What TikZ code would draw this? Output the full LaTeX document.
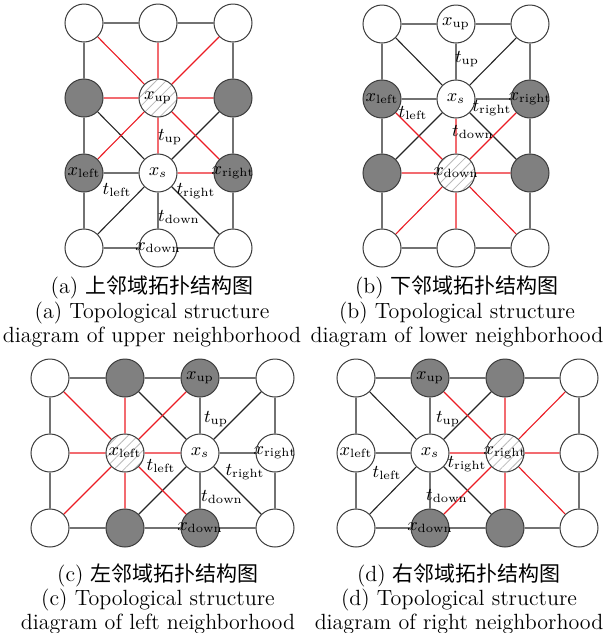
\documentclass[tikz,border=0pt]{standalone}
\usepackage{fontspec}
\newfontfamily\cjk{Noto Sans CJK SC}
\usetikzlibrary{patterns.meta}
\pgfdeclarelayer{bg}
\pgfsetlayers{bg,main}

\definecolor{edgered}{RGB}{235,28,36}
\definecolor{nodegray}{RGB}{128,128,128}
\definecolor{rim}{RGB}{60,60,60}

\tikzset{
  vtx/.style={circle, draw=rim, line width=0.5pt, fill=white, minimum size=19pt, inner sep=0pt},
  darkvtx/.style={vtx, fill=nodegray},
  hatchvtx/.style={vtx, preaction={fill=white},
    pattern={Lines[angle=45,distance=3.5pt,line width=0.4pt]}, pattern color=gray!55},
  blk/.style={draw=black!85, line width=0.55pt},
  rd/.style={draw=edgered, line width=0.55pt},
  lbl/.style={inner sep=0pt, font=\fontsize{9}{10}\selectfont},
  captxt/.style={anchor=base, inner sep=0pt, font=\fontsize{11}{12}\selectfont},
  nm/.style={label={[lbl]center:#1}},
}

\begin{document}
\begin{tikzpicture}[x=0.5pt, y=-0.5pt]
\useasboundingbox (0,0) rectangle (609,633);

% ---------- (a) upper neighbourhood ----------
\node[vtx]  (a00) at (84,23)  {};
\node[vtx]  (a10) at (158,23) {};
\node[vtx]  (a20) at (233,23) {};
\node[darkvtx] (a01) at (84,98)  {};
\node[hatchvtx,nm={$x_{\mathrm{up}}$}] (a11) at (158,98) {};
\node[darkvtx] (a21) at (233,98) {};
\node[darkvtx,nm={$x_{\mathrm{left}}$}]  (a02) at (84,173)  {};
\node[vtx,nm={$x_s$}]                    (a12) at (158,173) {};
\node[darkvtx,nm={$x_{\mathrm{right}}$}] (a22) at (233,173) {};
\node[vtx]  (a03) at (84,248)  {};
\node[vtx,nm={$x_{\mathrm{down}}$}] (a13) at (158,248) {};
\node[vtx]  (a23) at (233,248) {};
\begin{pgfonlayer}{bg}
  \draw[blk] (a00)--(a10)--(a20) (a03)--(a13)--(a23)
             (a00)--(a01)--(a02)--(a03) (a20)--(a21)--(a22)--(a23)
             (a01)--(a12) (a21)--(a12) (a02)--(a12) (a12)--(a13)
             (a12)--(a03) (a12)--(a23);
  \draw[rd] (a11)--(a00) (a11)--(a10) (a11)--(a20) (a11)--(a01) (a11)--(a21)
            (a11)--(a02) (a11)--(a22) (a11)--(a12) (a12)--(a22);
\end{pgfonlayer}
\node[lbl] (ta-u) at (170,137) {$t_{\mathrm{up}}$};
\node[lbl] (ta-l) at (117,190) {$t_{\mathrm{left}}$};
\node[lbl] (ta-r) at (196,191) {$t_{\mathrm{right}}$};
\node[lbl] (ta-d) at (179,217) {$t_{\mathrm{down}}$};

% ---------- (b) lower neighbourhood ----------
\node[vtx]  (b00) at (382,24) {};
\node[vtx,nm={$x_{\mathrm{up}}$}] (b10) at (456,24) {};
\node[vtx]  (b20) at (530,24) {};
\node[darkvtx,nm={$x_{\mathrm{left}}$}]  (b01) at (382,99) {};
\node[vtx,nm={$x_s$}]                    (b11) at (456,99) {};
\node[darkvtx,nm={$x_{\mathrm{right}}$}] (b21) at (530,99) {};
\node[darkvtx] (b02) at (382,173) {};
\node[hatchvtx,nm={$x_{\mathrm{down}}$}] (b12) at (456,173) {};
\node[darkvtx] (b22) at (530,173) {};
\node[vtx]  (b03) at (382,248) {};
\node[vtx]  (b13) at (456,248) {};
\node[vtx]  (b23) at (530,248) {};
\begin{pgfonlayer}{bg}
  \draw[blk] (b00)--(b10)--(b20) (b03)--(b13)--(b23)
             (b00)--(b01)--(b02)--(b03) (b20)--(b21)--(b22)--(b23)
             (b11)--(b00) (b11)--(b20) (b11)--(b10) (b11)--(b01)
             (b11)--(b21) (b11)--(b02) (b11)--(b22);
  \draw[rd] (b12)--(b01) (b12)--(b21) (b12)--(b02) (b12)--(b22)
            (b12)--(b03) (b12)--(b13) (b12)--(b23) (b12)--(b11);
\end{pgfonlayer}
\node[lbl] (tb-u) at (467,59)  {$t_{\mathrm{up}}$};
\node[lbl] (tb-l) at (413,113) {$t_{\mathrm{left}}$};
\node[lbl] (tb-r) at (492,108) {$t_{\mathrm{right}}$};
\node[lbl] (tb-d) at (473,132) {$t_{\mathrm{down}}$};

% ---------- (c) left neighbourhood ----------
\node[vtx]  (c00) at (50,378)  {};
\node[darkvtx] (c10) at (125,378) {};
\node[darkvtx,nm={$x_{\mathrm{up}}$}] (c20) at (200,378) {};
\node[vtx]  (c30) at (275,378) {};
\node[vtx]  (c01) at (50,453)  {};
\node[hatchvtx,nm={$x_{\mathrm{left}}$}] (c11) at (125,453) {};
\node[vtx,nm={$x_s$}]                    (c21) at (200,453) {};
\node[vtx,nm={$x_{\mathrm{right}}$}]     (c31) at (275,453) {};
\node[vtx]  (c02) at (50,528)  {};
\node[darkvtx] (c12) at (125,528) {};
\node[darkvtx,nm={$x_{\mathrm{down}}$}] (c22) at (200,528) {};
\node[vtx]  (c32) at (275,528) {};
\begin{pgfonlayer}{bg}
  \draw[blk] (c00)--(c10)--(c20)--(c30) (c02)--(c12)--(c22)--(c32)
             (c00)--(c01)--(c02) (c30)--(c31)--(c32)
             (c21)--(c20) (c21)--(c22) (c21)--(c31) (c21)--(c10)
             (c21)--(c30) (c21)--(c12) (c21)--(c32);
  \draw[rd] (c11)--(c00) (c11)--(c10) (c11)--(c20) (c11)--(c01)
            (c11)--(c21) (c11)--(c02) (c11)--(c12) (c11)--(c22);
\end{pgfonlayer}
\node[lbl] (tc-u) at (216,419) {$t_{\mathrm{up}}$};
\node[lbl] (tc-l) at (161,466) {$t_{\mathrm{left}}$};
\node[lbl] (tc-r) at (245,472) {$t_{\mathrm{right}}$};
\node[lbl] (tc-d) at (222,497) {$t_{\mathrm{down}}$};

% ---------- (d) right neighbourhood ----------
\node[vtx]  (d00) at (356,378) {};
\node[darkvtx,nm={$x_{\mathrm{up}}$}] (d10) at (430,378) {};
\node[darkvtx] (d20) at (505,378) {};
\node[vtx]  (d30) at (579,378) {};
\node[vtx,nm={$x_{\mathrm{left}}$}]       (d01) at (356,453) {};
\node[vtx,nm={$x_s$}]                     (d11) at (430,453) {};
\node[hatchvtx,nm={$x_{\mathrm{right}}$}] (d21) at (505,453) {};
\node[vtx]  (d31) at (579,453) {};
\node[vtx]  (d02) at (356,528) {};
\node[darkvtx,nm={$x_{\mathrm{down}}$}] (d12) at (430,528) {};
\node[darkvtx] (d22) at (505,528) {};
\node[vtx]  (d32) at (579,528) {};
\begin{pgfonlayer}{bg}
  \draw[blk] (d00)--(d10)--(d20)--(d30) (d02)--(d12)--(d22)--(d32)
             (d00)--(d01)--(d02) (d30)--(d31)--(d32)
             (d11)--(d10) (d11)--(d12) (d11)--(d01) (d11)--(d00)
             (d11)--(d20) (d11)--(d02) (d11)--(d22);
  \draw[rd] (d21)--(d10) (d21)--(d20) (d21)--(d30) (d21)--(d11)
            (d21)--(d31) (d21)--(d12) (d21)--(d22) (d21)--(d32);
\end{pgfonlayer}
\node[lbl] (td-u) at (448,419) {$t_{\mathrm{up}}$};
\node[lbl] (td-l) at (387,473) {$t_{\mathrm{left}}$};
\node[lbl] (td-r) at (467,464) {$t_{\mathrm{right}}$};
\node[lbl] (td-d) at (447,496) {$t_{\mathrm{down}}$};

% ---------- captions ----------
\node[captxt] (ca1) at (152,293) {(a) {\cjk\fontsize{10.5}{12}\selectfont 上邻域拓扑结构图}};
\node[captxt] (ca2) at (152,318) {(a) Topological structure};
\node[captxt] (ca3) at (152,342) {diagram of upper neighborhood};
\node[captxt] (cb1) at (457,293) {(b) {\cjk\fontsize{10.5}{12}\selectfont 下邻域拓扑结构图}};
\node[captxt] (cb2) at (457,318) {(b) Topological structure};
\node[captxt] (cb3) at (457,342) {diagram of lower neighborhood};
\node[captxt] (cc1) at (158,581) {(c) {\cjk\fontsize{10.5}{12}\selectfont 左邻域拓扑结构图}};
\node[captxt] (cc2) at (158,605) {(c) Topological structure};
\node[captxt] (cc3) at (158,629) {diagram of left neighborhood};
\node[captxt] (cd1) at (459,581) {(d) {\cjk\fontsize{10.5}{12}\selectfont 右邻域拓扑结构图}};
\node[captxt] (cd2) at (459,605) {(d) Topological structure};
\node[captxt] (cd3) at (459,629) {diagram of right neighborhood};
\end{tikzpicture}
\end{document}
